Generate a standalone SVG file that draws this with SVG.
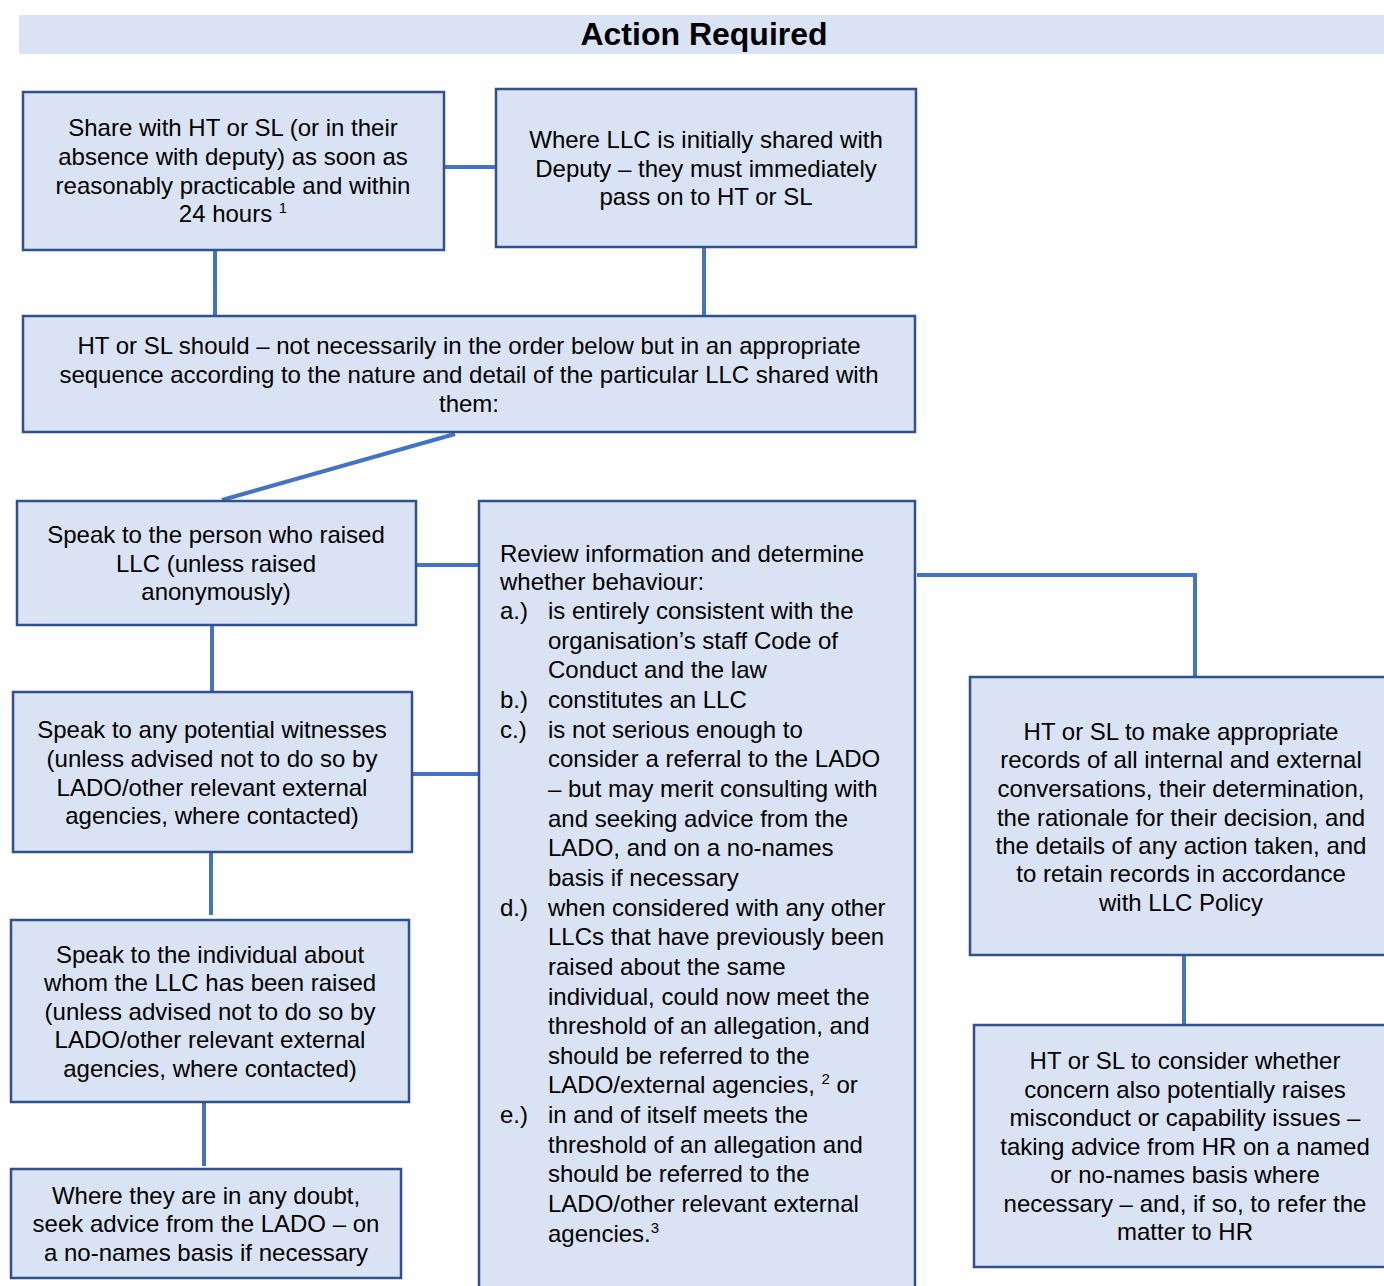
<svg xmlns="http://www.w3.org/2000/svg" width="1384" height="1286" viewBox="0 0 1384 1286">
<style>
.box{fill:#dae3f3;stroke:#2f528f;stroke-width:2.5}
.t{font-family:"Liberation Sans",Arial,sans-serif;font-size:24px;fill:#000}
.c{text-anchor:middle}
.conn{stroke:#4472c4;stroke-width:4;fill:none}
.sup{font-size:15px}
</style>
<rect width="1384" height="1286" fill="#ffffff"/>
<g id="header">
<rect x="19" y="15" width="1370" height="39" fill="#dae3f3"/>
<text x="704" y="45" font-family="'Liberation Sans',Arial,sans-serif" font-size="32" font-weight="bold" text-anchor="middle">Action Required</text>
</g>
<g id="connectors">
<line class="conn" x1="444" y1="167" x2="496" y2="167"/>
<line class="conn" x1="215" y1="250" x2="215" y2="316"/>
<line class="conn" x1="704" y1="247" x2="704" y2="316"/>
<line class="conn" x1="455" y1="434" x2="222" y2="500"/>
<line class="conn" x1="416" y1="565" x2="479" y2="565"/>
<line class="conn" x1="212" y1="625" x2="212" y2="691"/>
<line class="conn" x1="412" y1="774" x2="479" y2="774"/>
<line class="conn" x1="211" y1="852" x2="211" y2="915"/>
<line class="conn" x1="204" y1="1102" x2="204" y2="1166"/>
<polyline class="conn" points="917,575 1195,575 1195,676"/>
<line class="conn" x1="1184" y1="956" x2="1184" y2="1025"/>
</g>
<g id="nodeA">
<rect class="box" x="23" y="92" width="421" height="158"/>
<text class="t c" x="233" y="136">Share with HT or SL (or in their</text>
<text class="t c" x="233" y="165">absence with deputy) as soon as</text>
<text class="t c" x="233" y="194">reasonably practicable and within</text>
<text class="t c" x="233" y="222">24 hours <tspan class="sup" dy="-9">1</tspan></text>
</g>
<g id="nodeB">
<rect class="box" x="496" y="89" width="420" height="158"/>
<text class="t c" x="706" y="148">Where LLC is initially shared with</text>
<text class="t c" x="706" y="177">Deputy – they must immediately</text>
<text class="t c" x="706" y="205">pass on to HT or SL</text>
</g>
<g id="nodeC">
<rect class="box" x="23" y="316" width="892" height="116"/>
<text class="t c" x="469" y="354">HT or SL should – not necessarily in the order below but in an appropriate</text>
<text class="t c" x="469" y="383">sequence according to the nature and detail of the particular LLC shared with</text>
<text class="t c" x="469" y="412">them:</text>
</g>
<g id="nodeD">
<rect class="box" x="17" y="501" width="399" height="124"/>
<text class="t c" x="216" y="543">Speak to the person who raised</text>
<text class="t c" x="216" y="572">LLC (unless raised</text>
<text class="t c" x="216" y="600">anonymously)</text>
</g>
<g id="nodeF">
<rect class="box" x="13" y="692" width="399" height="160"/>
<text class="t c" x="212" y="738">Speak to any potential witnesses</text>
<text class="t c" x="212" y="767">(unless advised not to do so by</text>
<text class="t c" x="212" y="796">LADO/other relevant external</text>
<text class="t c" x="212" y="824">agencies, where contacted)</text>
</g>
<g id="nodeG">
<rect class="box" x="11" y="920" width="398" height="182"/>
<text class="t c" x="210" y="963">Speak to the individual about</text>
<text class="t c" x="210" y="991">whom the LLC has been raised</text>
<text class="t c" x="210" y="1020">(unless advised not to do so by</text>
<text class="t c" x="210" y="1048">LADO/other relevant external</text>
<text class="t c" x="210" y="1077">agencies, where contacted)</text>
</g>
<g id="nodeH">
<rect class="box" x="11" y="1169" width="390" height="109"/>
<text class="t c" x="206" y="1204">Where they are in any doubt,</text>
<text class="t c" x="206" y="1232">seek advice from the LADO – on</text>
<text class="t c" x="206" y="1261">a no-names basis if necessary</text>
</g>
<g id="nodeE">
<rect class="box" x="479" y="501" width="436" height="800"/>
<text class="t" x="500" y="562">Review information and determine</text>
<text class="t" x="500" y="590">whether behaviour:</text>
<text class="t" x="500" y="619">a.)</text>
<text class="t" x="548" y="619">is entirely consistent with the</text>
<text class="t" x="548" y="648.6">organisation’s staff Code of</text>
<text class="t" x="548" y="678.3">Conduct and the law</text>
<text class="t" x="500" y="708">b.)</text>
<text class="t" x="548" y="708">constitutes an LLC</text>
<text class="t" x="500" y="737.6">c.)</text>
<text class="t" x="548" y="737.6">is not serious enough to</text>
<text class="t" x="548" y="767.3">consider a referral to the LADO</text>
<text class="t" x="548" y="797">– but may merit consulting with</text>
<text class="t" x="548" y="826.6">and seeking advice from the</text>
<text class="t" x="548" y="856.2">LADO, and on a no-names</text>
<text class="t" x="548" y="885.9">basis if necessary</text>
<text class="t" x="500" y="915.5">d.)</text>
<text class="t" x="548" y="915.5">when considered with any other</text>
<text class="t" x="548" y="945.2">LLCs that have previously been</text>
<text class="t" x="548" y="974.8">raised about the same</text>
<text class="t" x="548" y="1004.5">individual, could now meet the</text>
<text class="t" x="548" y="1034">threshold of an allegation, and</text>
<text class="t" x="548" y="1063.8">should be referred to the</text>
<text class="t" x="548" y="1093.4">LADO/external agencies, <tspan class="sup" dy="-9">2</tspan><tspan dy="9"> or</tspan></text>
<text class="t" x="500" y="1123">e.)</text>
<text class="t" x="548" y="1123">in and of itself meets the</text>
<text class="t" x="548" y="1152.7">threshold of an allegation and</text>
<text class="t" x="548" y="1182.4">should be referred to the</text>
<text class="t" x="548" y="1212">LADO/other relevant external</text>
<text class="t" x="548" y="1241.7">agencies.<tspan class="sup" dy="-9">3</tspan></text>
</g>
<g id="nodeI">
<rect class="box" x="970" y="677" width="430" height="278"/>
<text class="t c" x="1181" y="740">HT or SL to make appropriate</text>
<text class="t c" x="1181" y="768">records of all internal and external</text>
<text class="t c" x="1181" y="797">conversations, their determination,</text>
<text class="t c" x="1181" y="826">the rationale for their decision, and</text>
<text class="t c" x="1181" y="854">the details of any action taken, and</text>
<text class="t c" x="1181" y="882">to retain records in accordance</text>
<text class="t c" x="1181" y="911">with LLC Policy</text>
</g>
<g id="nodeJ">
<rect class="box" x="974" y="1025" width="426" height="242"/>
<text class="t c" x="1185" y="1069">HT or SL to consider whether</text>
<text class="t c" x="1185" y="1098">concern also potentially raises</text>
<text class="t c" x="1185" y="1126">misconduct or capability issues –</text>
<text class="t c" x="1185" y="1155">taking advice from HR on a named</text>
<text class="t c" x="1185" y="1183">or no-names basis where</text>
<text class="t c" x="1185" y="1212">necessary – and, if so, to refer the</text>
<text class="t c" x="1185" y="1240">matter to HR</text>
</g>
</svg>
